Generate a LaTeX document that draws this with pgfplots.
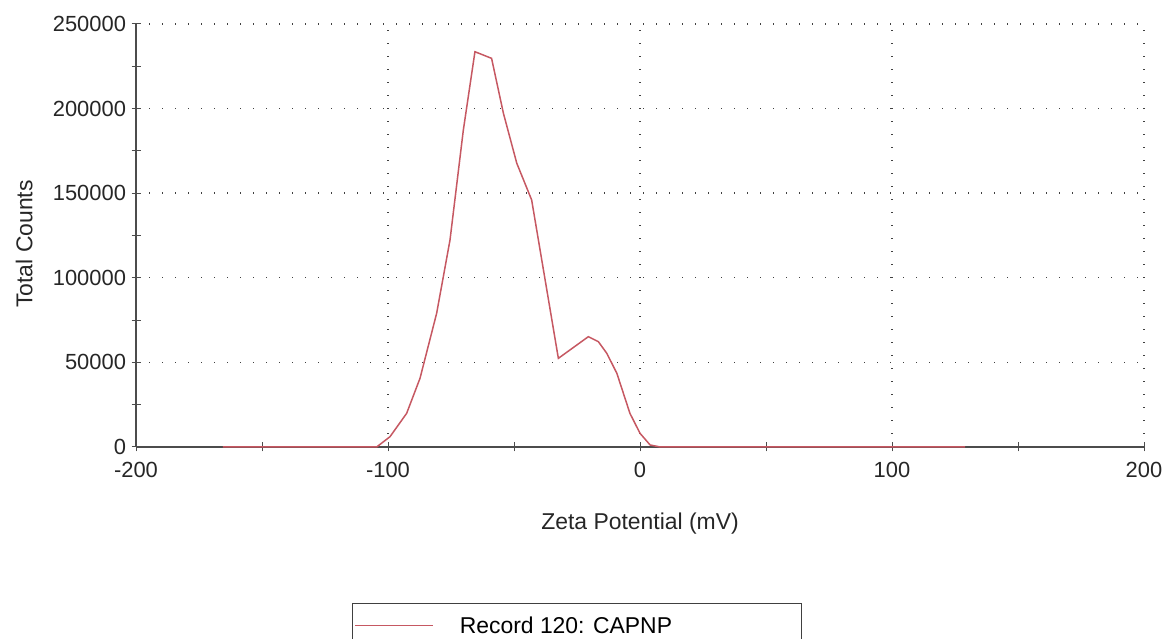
\documentclass[border=0pt]{standalone}
\usepackage{pgfplots}
\pgfplotsset{compat=1.18}
\usepackage{fontspec}
\setmainfont{Liberation Sans}
\definecolor{linered}{RGB}{198,88,98}
\begin{document}
\begin{tikzpicture}[x=1bp,y=1bp]
\useasboundingbox (0,0) rectangle (1167,639);
\begin{axis}[
  at={(640bp,192bp)}, anchor=origin,
  scale only axis, width=1008bp, height=423bp,
  xmin=-200, xmax=200, ymin=0, ymax=250000,
  axis x line=bottom, axis y line=left,
  axis line style={-, black!70, line width=1.2bp},
  xtick={-200,-100,0,100,200},
  xticklabels={-200,-100,0,100,200},
  ytick={0,50000,100000,150000,200000,250000},
  yticklabels={0,50000,100000,150000,200000,250000},
  minor x tick num=1, minor y tick num=1,
  tick align=center,
  major tick length=9bp, minor tick length=9bp,
  tick style={black!70, line width=1bp},
  grid=major,
  major grid style={black!75, line width=1.4bp, dash pattern=on 1.4bp off 11.6bp},
  scaled y ticks=false,
  tick label style={font=\fontsize{22}{26}\selectfont, text=black!85},
  xticklabel style={yshift=-7bp},
  yticklabel style={xshift=-2bp},
  xlabel={Zeta Potential (mV)},
  ylabel={Total Counts},
  label style={font=\fontsize{23}{27}\selectfont, text=black!85},
  xlabel style={at={(axis description cs:0.5,-0.18)}, anchor=center},
  ylabel style={at={(axis description cs:-0.111,0.48)}, anchor=center},
  legend style={at={(axis description cs:0.2143,-0.3688)}, anchor=north west,
    draw=black!75, line width=1.2bp, font=\fontsize{23}{27}\selectfont,
    inner xsep=2bp, inner ysep=11bp},
  legend image code/.code={\draw[#1, line width=1.2bp] (0bp,0bp) -- (78bp,0bp);},
  clip=false,
]
\addplot[linered, line width=1.5bp] coordinates {
(-165.5,0) (-104.5,0) (-99.2,6100) (-92.6,19900) (-87.3,40600) (-80.7,79000)
(-75.4,122300) (-70.1,187400) (-65.5,233600) (-58.9,229700) (-54.2,197200)
(-48.9,167700) (-43.0,146000) (-32.4,52400) (-20.5,65200) (-16.5,62200)
(-13.2,55400) (-9.2,43600) (-4.0,19900) (0,8100) (4,1200) (8,0) (129,0)
};
\addlegendentry{\hspace*{24bp}\makebox[338bp][l]{Record 120: CAPNP}}
\end{axis}
\end{tikzpicture}
\end{document}
